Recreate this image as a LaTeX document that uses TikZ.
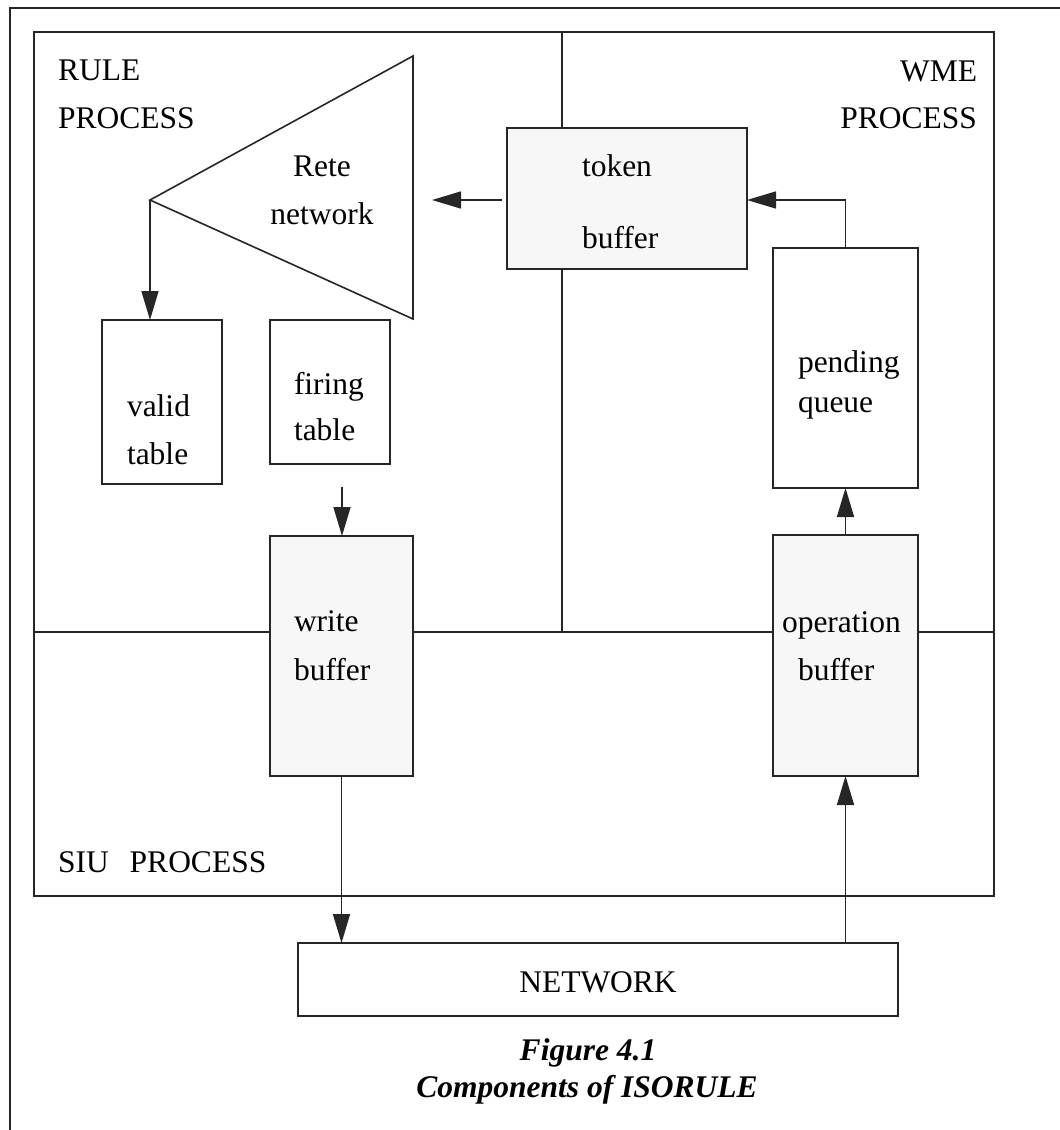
\documentclass[tikz,border=0pt]{standalone}
\usepackage{fontspec}
\setmainfont{Liberation Serif}
\usetikzlibrary{arrows.meta}

\begin{document}
\begin{tikzpicture}[x=1pt,y=-1pt,
  every node/.style={inner sep=0pt, outer sep=0pt},
  frame/.style={line width=1.6pt, draw=black!85},
  box/.style={draw=black!85, line width=1.6pt, fill=white},
  buf/.style={box, fill=black!3},
  lbl/.style={font=\fontsize{31.5}{36}\selectfont, anchor=base west},
  clbl/.style={lbl, anchor=base},
  rlbl/.style={lbl, anchor=base east},
  captext/.style={font=\fontsize{31.5}{36}\selectfont\bfseries\itshape, anchor=base},
  flow/.style={line width=1.6pt, draw=black!85, -{Triangle[length=29pt,width=17pt]}},
]
\useasboundingbox (0,0) rectangle (1060,1130);

% page frame (top and left edges)
\draw[frame] (10,1130) -- (10,8) -- (1060,8);

% process area and its dividers
\draw[frame] (34,32) rectangle (994,896);
\draw[frame] (34,632) -- (994,632);
\draw[frame] (562,32) -- (562,632);

% process names
\node[lbl] (rule1) at (58,80) {RULE};
\node[lbl] (rule2) at (58,128) {PROCESS};
\node[rlbl] (wme1) at (977,81) {WME};
\node[rlbl] (wme2) at (977,128) {PROCESS};
\node[lbl] (siu) at (58,872.7) {SIU\hspace{21pt}PROCESS};

% Rete network triangle
\coordinate (apex) at (150,200);
\coordinate (tri-top) at (413,56);
\coordinate (tri-bot) at (413,319);
\draw[frame] (apex) -- (tri-top) -- (tri-bot) -- cycle;
\node[clbl] (rete1) at (322,176.7) {Rete};
\node[clbl] (rete2) at (322,224) {network};

% boxes
\node[buf, minimum width=240pt, minimum height=141pt] (token) at (627,198.5) {};
\node[box, minimum width=120pt, minimum height=164pt] (valid) at (162,402) {};
\node[box, minimum width=120pt, minimum height=144pt] (firing) at (330,392) {};
\node[buf, minimum width=143pt, minimum height=240pt] (write) at (341.5,656) {};
\node[buf, minimum width=145pt, minimum height=241pt] (op) at (845.5,655.5) {};
\node[box, minimum width=145pt, minimum height=240pt] (pending) at (845.5,368) {};
\node[box, minimum width=600pt, minimum height=73pt] (net) at (598,979.5) {};

% box texts
\node[lbl] (token1) at (582,176.7) {token};
\node[lbl] (token2) at (582,248) {buffer};
\node[lbl] (valid1) at (127,416.7) {valid};
\node[lbl] (valid2) at (127,464) {table};
\node[lbl] (firing1) at (294,394) {firing};
\node[lbl] (firing2) at (294,440) {table};
\node[lbl] (write1) at (294,631.7) {write};
\node[lbl] (write2) at (294,680.7) {buffer};
\node[lbl] (op1) at (782,632.7) {operation};
\node[lbl] (op2) at (798,680.7) {buffer};
\node[lbl] (pend1) at (798,372.7) {pending};
\node[lbl] (pend2) at (798,412) {queue};
\node[clbl] (net1) at (598,992) {NETWORK};

% connectors
\coordinate (rete-in) at (432,200);
\coordinate (fire-out) at (342,487);
\draw[flow, shorten <=5pt] (token.west |- rete-in) -- (rete-in);
\draw[flow] (pending.north) |- (token.east |- rete-in);
\draw[flow] (op.north) -- (pending.south);
\draw[flow] (apex) -- (apex |- valid.north);
\draw[flow] (fire-out) -- (fire-out |- write.north);
\draw[flow] (write.south) -- (write.south |- net.north);
\draw[flow] (op.south |- net.north) -- (op.south);

% caption
\node[captext] (cap1) at (588,1060) {Figure 4.1};
\node[captext] (cap2) at (587,1097) {Components of ISORULE};
\end{tikzpicture}
\end{document}
